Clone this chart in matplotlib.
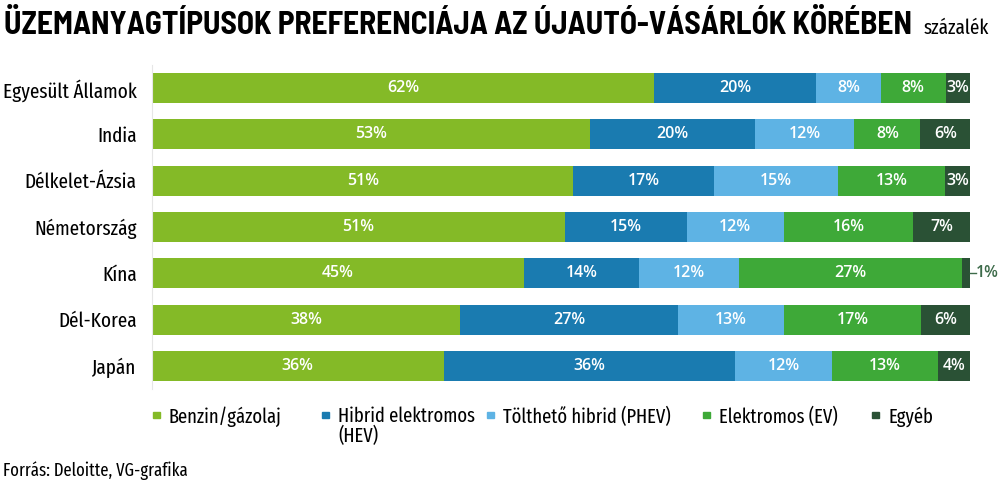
import matplotlib
matplotlib.use("Agg")
import numpy as np
import matplotlib.pyplot as plt
from matplotlib.patches import Rectangle

# data (percent)
countries = ["Egyesült Államok", "India", "Délkelet-Ázsia", "Németország",
             "Kína", "Dél-Korea", "Japán"]
benzin = [62, 53, 51, 51, 45, 38, 36]
hev = [20, 20, 17, 15, 14, 27, 36]
phev = [8, 12, 15, 12, 12, 13, 12]
ev = [8, 8, 13, 16, 27, 17, 13]
egyeb = [3, 6, 3, 7, 1, 6, 4]

series_names = ["Benzin/gázolaj", "Hibrid elektromos\n(HEV)", "Tölthető hibrid (PHEV)",
                "Elektromos (EV)", "Egyéb"]
colors = ["#84ba27", "#1a7bb0", "#5eb3e4", "#3ea938", "#2a5135"]

TITLEFONT = ["Barlow Semi Condensed", "DejaVu Sans"]
NARROW = ["Fira Sans Extra Condensed", "DejaVu Sans"]
VALFONT = ["Open Sans", "DejaVu Sans"]

fig = plt.figure(figsize=(10, 4.91), dpi=100)
ax = fig.add_axes([0.152, 0.2077, 0.818, 0.6599])

data = np.array([benzin, hev, phev, ev, egyeb], dtype=float)
totals = data.sum(axis=0)
widths = data / totals * 100  # bars are drawn full width in the original
y = np.arange(len(countries))

left = np.zeros(len(countries))
for i in range(len(series_names)):
    ax.barh(y, widths[i], left=left, height=0.65, color=colors[i], edgecolor="none")
    for j in range(len(countries)):
        val = data[i, j]
        cx = left[j] + widths[i, j] / 2
        if val <= 1:
            # too thin: label outside with a small leader
            xe = left[j] + widths[i, j]
            ax.plot([xe, xe + 0.7], [y[j], y[j]], color="#3d6b4a", lw=1, clip_on=False)
            ax.text(xe + 0.75, y[j], f"{int(val)}%", va="center", ha="left",
                    color="#3d6b4a", fontsize=11.5, fontweight="semibold",
                    family=VALFONT, clip_on=False)
        else:
            ax.text(cx, y[j], f"{int(val)}%", va="center", ha="center",
                    color="white", fontsize=11.5, fontweight="semibold", family=VALFONT)
    left += widths[i]

ax.set_xlim(0, 100)
ax.set_ylim(len(countries) - 0.5, -0.5)
ax.set_yticks(y)
ax.set_yticklabels(countries, family=NARROW, fontsize=15)
ax.tick_params(axis="y", length=0, pad=11)
ax.set_xticks([])
for s in ["top", "right", "bottom"]:
    ax.spines[s].set_visible(False)
ax.spines["left"].set_color("#e6e6e6")
ax.spines["left"].set_linewidth(0.8)

# title
fig.text(0.004, 0.9308, "ÜZEMANYAGTÍPUSOK PREFERENCIÁJA AZ ÚJAUTÓ-VÁSÁRLÓK KÖRÉBEN",
         family=TITLEFONT, fontweight="bold", fontsize=22.7,
         va="baseline", ha="left")
fig.text(0.924, 0.9308, "százalék", family=NARROW, fontsize=15,
         va="baseline", ha="left")

# legend (manual, the original wraps the HEV label)
leg_x = [0.153, 0.322, 0.487, 0.703, 0.872]
for xi, name, c in zip(leg_x, series_names, colors):
    fig.patches.append(Rectangle((xi, 0.1487), 0.007, 0.0132, transform=fig.transFigure,
                                 color=c, figure=fig))
    fig.text(xi + 0.016, 0.172, name, family=NARROW, fontsize=14.5,
             va="top", ha="left", linespacing=1.0)

fig.text(0.003, 0.042, "Forrás: Deloitte, VG-grafika", family=NARROW,
         fontsize=13, va="center", ha="left")

fig.savefig("out.png", dpi=100)
